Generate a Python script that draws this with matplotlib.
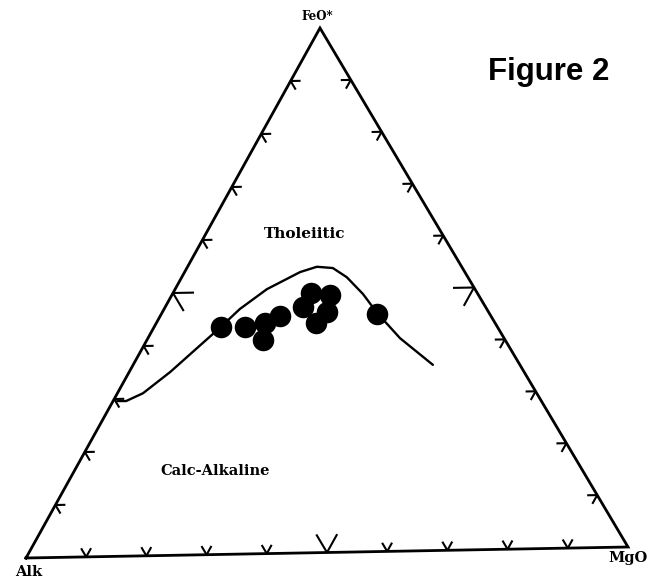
import numpy as np
import matplotlib
matplotlib.use("Agg")
import matplotlib.pyplot as plt

# ---- data (ternary percentages: FeO*, Alk, MgO) ----
sample_feo = [43.4, 43.3, 40.7, 44.0, 45.2, 49.5, 49.1, 46.9, 45.8, 43.8, 45.3]
sample_alk = [45.4, 41.5, 39.8, 37.8, 34.7, 27.3, 24.4, 30.0, 26.6, 29.4, 18.5]
sample_mgo = [11.2, 15.3, 19.5, 18.2, 20.1, 23.2, 26.5, 23.1, 27.6, 26.8, 36.2]

boundary_feo = [29.6, 29.6, 31.0, 35.0, 39.1, 43.4, 46.7, 50.4, 53.6, 54.5, 54.2, 52.4, 49.2, 45.5, 40.6, 35.4]
boundary_alk = [69.7, 68.3, 64.7, 58.2, 51.9, 45.4, 40.6, 34.2, 27.1, 23.8, 21.3, 19.9, 18.9, 18.4, 17.1, 14.3]
boundary_mgo = [0.7, 2.2, 4.3, 6.9, 9.0, 11.2, 12.7, 15.4, 19.4, 21.7, 24.5, 27.7, 32.0, 36.1, 42.3, 50.3]

tick_fracs = [0.1, 0.2, 0.3, 0.4, 0.5, 0.6, 0.7, 0.8, 0.9]
vertex_labels = ["FeO*", "Alk", "MgO"]
field_labels = ["Tholeiitic", "Calc-Alkaline"]
title_text = "Figure 2"

# ---- layout (vertex positions in figure pixel space) ----
A = np.array([26.0, 558.0])
M = np.array([628.0, 547.0])
F = np.array([320.0, 28.0])


def to_xy(f, a, m):
    f = np.asarray(f, float); a = np.asarray(a, float); m = np.asarray(m, float)
    s = f + a + m
    f, a, m = f / s, a / s, m / s
    x = a * A[0] + m * M[0] + f * F[0]
    y = a * A[1] + m * M[1] + f * F[1]
    return x, y


fig = plt.figure(figsize=(6.48, 5.82), dpi=100)
ax = fig.add_axes([0, 0, 1, 1])
ax.set_xlim(0, 648)
ax.set_ylim(582, 0)
ax.axis("off")

# triangle
tri = np.array([A, M, F, A])
ax.plot(tri[:, 0], tri[:, 1], color="black", lw=2.0, solid_joinstyle="miter")


def unit(v):
    return v / np.linalg.norm(v)


def stub(p, d, L):
    q = p + d * L
    ax.plot([p[0], q[0]], [p[1], q[1]], color="black", lw=1.5, solid_capstyle="butt")


for t in tick_fracs:
    L = 21 if abs(t - 0.5) < 1e-9 else 10
    # left edge (Alk -> FeO)
    p = A + t * (F - A)
    stub(p, unit(M - A), L)
    stub(p, unit(M - F), L)
    # right edge (MgO -> FeO)
    p = M + t * (F - M)
    stub(p, unit(A - M), L)
    stub(p, unit(A - F), L)
    # bottom edge (Alk -> MgO)
    p = A + t * (M - A)
    stub(p, unit(F - A), L)
    stub(p, unit(F - M), L)

# boundary curve
bx, by = to_xy(boundary_feo, boundary_alk, boundary_mgo)
ax.plot(bx, by, color="black", lw=1.7, solid_capstyle="round", solid_joinstyle="round")

# samples
sx, sy = to_xy(sample_feo, sample_alk, sample_mgo)
ax.plot(sx, sy, "o", color="black", markersize=15.5, markeredgewidth=0)

serif = dict(family="DejaVu Serif", fontweight="bold", color="black")
ax.text(317, 17, vertex_labels[0], fontsize=8.5, ha="center", va="center", **serif)
ax.text(29, 572, vertex_labels[1], fontsize=10.5, ha="center", va="center", **serif)
ax.text(628, 558, vertex_labels[2], fontsize=10.5, ha="center", va="center", **serif)
ax.text(305, 234, field_labels[0], fontsize=11, ha="center", va="center", **serif)
ax.text(215, 471, field_labels[1], fontsize=10.5, ha="center", va="center", **serif)
ax.text(549, 72, title_text, fontsize=22.5, ha="center", va="center",
        family="Liberation Sans", fontweight="bold", color="black")

fig.savefig("out.png", dpi=100, facecolor="white")
